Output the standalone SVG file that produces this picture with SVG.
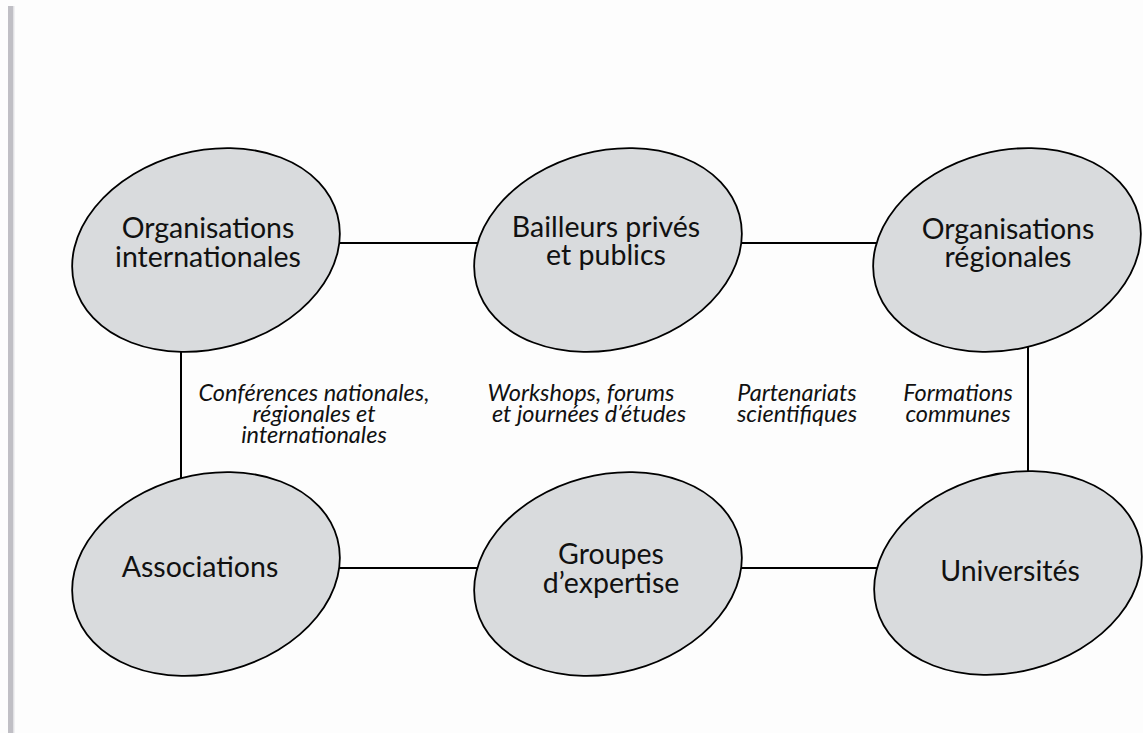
<svg xmlns="http://www.w3.org/2000/svg" width="1143" height="733" viewBox="0 0 1143 733">
<style>
.node ellipse{fill:#d9dbdd;stroke:#000;stroke-width:1.8}
.node text{font-family:Lato,"Liberation Sans",sans-serif;font-size:28.5px;fill:#111;text-anchor:middle}
.conn line{stroke:#000;stroke-width:2}
.lbl{font-family:Lato,"Liberation Sans",sans-serif;font-style:italic;font-size:23.5px;fill:#111;text-anchor:middle}
</style>
<rect x="0" y="0" width="1143" height="733" fill="#fdfdfd"/>
<rect x="8" y="6" width="5.5" height="727" fill="#c0bfc5"/>
<rect x="13.5" y="6" width="1" height="727" fill="#e4e4e8"/>
<g id="connectors" class="conn">
<line x1="330" y1="243" x2="485" y2="243"/>
<line x1="735" y1="243" x2="885" y2="243"/>
<line x1="330" y1="568" x2="485" y2="568"/>
<line x1="735" y1="568" x2="885" y2="568"/>
<line x1="181" y1="340" x2="181" y2="485"/>
<line x1="1028" y1="335" x2="1028" y2="480"/>
</g>
<g id="n1" class="node">
<ellipse cx="206" cy="250" rx="136" ry="99" transform="rotate(-15 206 250)"/>
<text x="208" y="238">Organisations</text>
<text x="208" y="267">internationales</text>
</g>
<g id="n2" class="node">
<ellipse cx="608" cy="250" rx="136" ry="99" transform="rotate(-15 608 250)"/>
<text x="606" y="237">Bailleurs privés</text>
<text x="606" y="265">et publics</text>
</g>
<g id="n3" class="node">
<ellipse cx="1007" cy="250" rx="136" ry="99" transform="rotate(-15 1007 250)"/>
<text x="1008" y="239">Organisations</text>
<text x="1008" y="267">régionales</text>
</g>
<g id="n4" class="node">
<ellipse cx="206" cy="574" rx="136" ry="99" transform="rotate(-15 206 574)"/>
<text x="200" y="577">Associations</text>
</g>
<g id="n5" class="node">
<ellipse cx="608" cy="574" rx="136" ry="99" transform="rotate(-15 608 574)"/>
<text x="611" y="564">Groupes</text>
<text x="611" y="593">d’expertise</text>
</g>
<g id="n6" class="node">
<ellipse cx="1008" cy="573" rx="136" ry="99" transform="rotate(-15 1008 573)"/>
<text x="1010" y="581">Universités</text>
</g>
<g id="labels">
<text class="lbl" x="314" y="401">Conférences nationales,</text>
<text class="lbl" x="314" y="422">régionales et</text>
<text class="lbl" x="314" y="443">internationales</text>
<text class="lbl" x="581" y="401">Workshops, forums</text>
<text class="lbl" x="589" y="422">et journées d’études</text>
<text class="lbl" x="797" y="401">Partenariats</text>
<text class="lbl" x="797" y="422">scientifiques</text>
<text class="lbl" x="958" y="401">Formations</text>
<text class="lbl" x="958" y="422">communes</text>
</g>
</svg>
